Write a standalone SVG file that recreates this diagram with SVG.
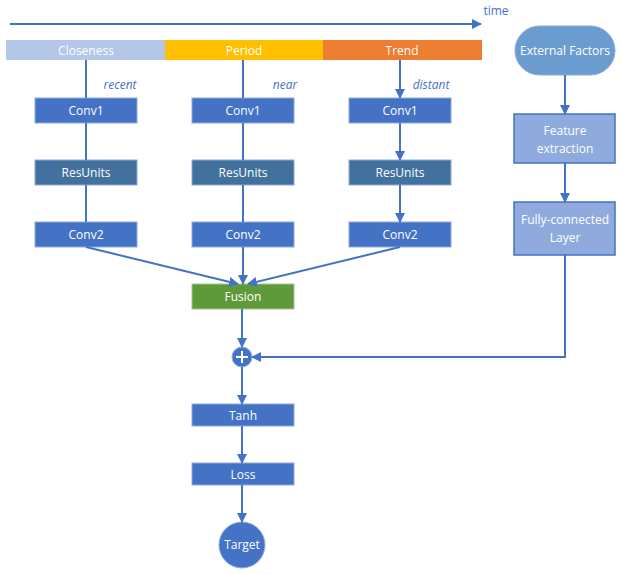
<svg xmlns="http://www.w3.org/2000/svg" width="622" height="574" viewBox="0 0 622 574">
<style>
text{font-family:"Open Sans","Liberation Sans",sans-serif;font-size:12px;fill:#fff;text-anchor:middle}
.b{fill:#4472c4;stroke:#8faadc;stroke-width:1}
.r{fill:#41719c;stroke:#8faadc;stroke-width:1}
.l{fill:#8faadc;stroke:#4472c4;stroke-width:1.5}
.c{stroke:#4472c4;stroke-width:2;fill:none;marker-end:url(#a)}
.i{fill:#4472c4;font-style:italic}
</style>
<defs><marker id="a" viewBox="0 0 10 10" refX="9" refY="5" markerWidth="5" markerHeight="5" orient="auto" markerUnits="strokeWidth"><path d="M0,0L10,5L0,10z" fill="#4472c4"/></marker></defs>
<g id="time"><text x="496" y="15" class="i" style="font-style:normal">time</text></g>
<g id="header">
<rect x="6" y="40" width="159" height="20" fill="#b4c7e7"/><text x="86" y="55">Closeness</text>
<rect x="165" y="40" width="158" height="20" fill="#ffc000"/><text x="244" y="55">Period</text>
<rect x="323" y="40" width="159" height="20" fill="#ed7d31"/><text x="402" y="55">Trend</text>
</g>
<g id="labels"><text x="120" y="89" class="i">recent</text><text x="285" y="89" class="i">near</text><text x="431" y="89" class="i">distant</text></g>
<g id="c1a"><rect class="b" x="35" y="98" width="102" height="25"/><text x="86" y="115">Conv1</text></g>
<g id="c1b"><rect class="b" x="192" y="98" width="102" height="25"/><text x="243" y="115">Conv1</text></g>
<g id="c1c"><rect class="b" x="349" y="98" width="102" height="25"/><text x="400" y="115">Conv1</text></g>
<g id="ra"><rect class="r" x="35" y="160" width="102" height="25"/><text x="86" y="177">ResUnits</text></g>
<g id="rb"><rect class="r" x="192" y="160" width="102" height="25"/><text x="243" y="177">ResUnits</text></g>
<g id="rc"><rect class="r" x="349" y="160" width="102" height="25"/><text x="400" y="177">ResUnits</text></g>
<g id="c2a"><rect class="b" x="35" y="222" width="102" height="25"/><text x="86" y="239">Conv2</text></g>
<g id="c2b"><rect class="b" x="192" y="222" width="102" height="25"/><text x="243" y="239">Conv2</text></g>
<g id="c2c"><rect class="b" x="349" y="222" width="102" height="25"/><text x="400" y="239">Conv2</text></g>
<g id="ext"><rect x="515" y="26" width="100" height="49" rx="24.5" fill="#6a9ccf" stroke="#8faadc"/><text x="565" y="55">External Factors</text></g>
<g id="feat"><rect class="l" x="514" y="114" width="101" height="49"/><text x="565" y="135">Feature</text><text x="565" y="153">extraction</text></g>
<g id="fc"><rect class="l" x="514" y="202" width="101" height="53"/><text x="565" y="224">Fully-connected</text><text x="565" y="242">Layer</text></g>
<g id="fusion"><rect x="192" y="284" width="102" height="25" fill="#5f9a3a" stroke="#a9c48f"/><text x="243" y="301">Fusion</text></g>
<g id="plus"><circle cx="242" cy="357" r="10" fill="#4472c4" stroke="#8faadc"/><path d="M236,357h12M242,351v12" stroke="#fff" stroke-width="2"/></g>
<g id="tanh"><rect class="b" x="192" y="404" width="102" height="22"/><text x="243" y="420">Tanh</text></g>
<g id="loss"><rect class="b" x="192" y="463" width="102" height="22"/><text x="243" y="479">Loss</text></g>
<g id="target"><circle cx="242" cy="545" r="23" fill="#4472c4" stroke="#8faadc"/><text x="242" y="549">Target</text></g>
<g id="connectors">
<path class="c" d="M10,24H481"/>
<path class="c" d="M86,60V98M243,60V98M400,60V98"/>
<path class="c" d="M86,123V160M243,123V160M400,123V160"/>
<path class="c" d="M86,185V222M243,185V222M400,185V222"/>
<path class="c" d="M86,247L238,284"/><path class="c" d="M243,247V284"/><path class="c" d="M400,247L248,284"/>
<path class="c" d="M565,75V114"/><path class="c" d="M565,163V202"/>
<path class="c" d="M565,255V357H252"/>
<path class="c" d="M242,309V347"/><path class="c" d="M242,367V404"/><path class="c" d="M242,426V463"/><path class="c" d="M242,485V522"/>
</g>
</svg>
